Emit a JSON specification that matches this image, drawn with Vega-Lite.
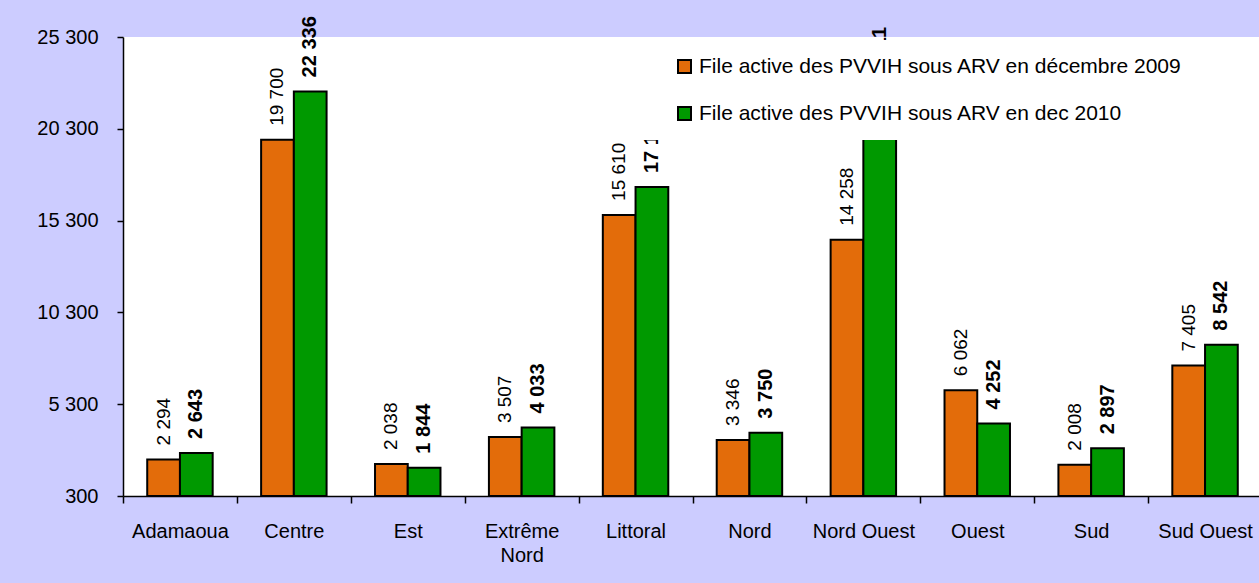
{
  "$schema": "https://vega.github.io/schema/vega-lite/v6.json",
  "width": 1136,
  "height": 459,
  "autosize": {"type": "none"},
  "padding": {"left": 123, "top": 37, "right": 0, "bottom": 87},
  "background": "#ccccff",
  "config": {
    "locale": {"number": {"decimal": ",", "thousands": " ", "grouping": [3], "currency": ["", " €"]}},
    "view": {"fill": "white", "stroke": null},
    "font": "Liberation Sans",
    "axis": {"labelFont": "Liberation Sans", "labelColor": "black", "domainColor": "black", "tickColor": "black", "grid": false, "title": null, "domainWidth": 1.5, "tickWidth": 1.5}
  },
  "data": {
    "values": [
      {"region": "Adamaoua", "serie": "File active des PVVIH sous ARV en décembre 2009", "value": 2294},
      {"region": "Adamaoua", "serie": "File active des PVVIH sous ARV en dec 2010", "value": 2643},
      {"region": "Centre", "serie": "File active des PVVIH sous ARV en décembre 2009", "value": 19700},
      {"region": "Centre", "serie": "File active des PVVIH sous ARV en dec 2010", "value": 22336},
      {"region": "Est", "serie": "File active des PVVIH sous ARV en décembre 2009", "value": 2038},
      {"region": "Est", "serie": "File active des PVVIH sous ARV en dec 2010", "value": 1844},
      {"region": "Extrême Nord", "serie": "File active des PVVIH sous ARV en décembre 2009", "value": 3507},
      {"region": "Extrême Nord", "serie": "File active des PVVIH sous ARV en dec 2010", "value": 4033},
      {"region": "Littoral", "serie": "File active des PVVIH sous ARV en décembre 2009", "value": 15610},
      {"region": "Littoral", "serie": "File active des PVVIH sous ARV en dec 2010", "value": 17130},
      {"region": "Nord", "serie": "File active des PVVIH sous ARV en décembre 2009", "value": 3346},
      {"region": "Nord", "serie": "File active des PVVIH sous ARV en dec 2010", "value": 3750},
      {"region": "Nord Ouest", "serie": "File active des PVVIH sous ARV en décembre 2009", "value": 14258},
      {"region": "Nord Ouest", "serie": "File active des PVVIH sous ARV en dec 2010", "value": 21811},
      {"region": "Ouest", "serie": "File active des PVVIH sous ARV en décembre 2009", "value": 6062},
      {"region": "Ouest", "serie": "File active des PVVIH sous ARV en dec 2010", "value": 4252},
      {"region": "Sud", "serie": "File active des PVVIH sous ARV en décembre 2009", "value": 2008},
      {"region": "Sud", "serie": "File active des PVVIH sous ARV en dec 2010", "value": 2897},
      {"region": "Sud Ouest", "serie": "File active des PVVIH sous ARV en décembre 2009", "value": 7405},
      {"region": "Sud Ouest", "serie": "File active des PVVIH sous ARV en dec 2010", "value": 8542}
    ]
  },
  "encoding": {
    "x": {
      "field": "region",
      "type": "nominal",
      "sort": ["Adamaoua", "Centre", "Est", "Extrême Nord", "Littoral", "Nord", "Nord Ouest", "Ouest", "Sud", "Sud Ouest"],
      "scale": {"range": [0, 1139], "paddingInner": 0, "paddingOuter": 0},
      "axis": {
        "labelAngle": 0,
        "tickBand": "extent",
        "tickSize": 7,
        "labelPadding": 18,
        "labelFontSize": 20,
        "labelLineHeight": 24,
        "labelLimit": 0,
        "labelExpr": "datum.label == 'Extrême Nord' ? ['Extrême', 'Nord'] : datum.label"
      }
    },
    "xOffset": {
      "field": "serie",
      "type": "nominal",
      "sort": ["File active des PVVIH sous ARV en décembre 2009", "File active des PVVIH sous ARV en dec 2010"],
      "scale": {"paddingInner": 0, "paddingOuter": 0.74}
    },
    "y": {
      "field": "value",
      "type": "quantitative",
      "scale": {"domain": [300, 25300], "nice": false, "zero": false},
      "axis": {
        "values": [300, 5300, 10300, 15300, 20300, 25300],
        "format": ",d",
        "tickSize": 6,
        "labelPadding": 19,
        "labelFontSize": 20
      }
    }
  },
  "layer": [
    {
      "mark": {"type": "bar", "stroke": "black", "strokeWidth": 2},
      "encoding": {
        "y2": {"datum": 300},
        "color": {
          "field": "serie",
          "type": "nominal",
          "scale": {"domain": ["File active des PVVIH sous ARV en décembre 2009", "File active des PVVIH sous ARV en dec 2010"], "range": ["#e36c0a", "#009900"]},
          "legend": {
            "orient": "none",
            "legendX": 515,
            "legendY": 3,
            "title": null,
            "fillColor": "white",
            "padding": 16,
            "symbolOffset": 20,
            "symbolType": "square",
            "symbolSize": 169,
            "symbolStrokeColor": "black",
            "symbolStrokeWidth": 2,
            "labelFontSize": 21,
            "labelFont": "Liberation Sans",
            "labelColor": "black",
            "labelOffset": 4,
            "rowPadding": 25,
            "labelLimit": 0
          }
        }
      }
    },
    {
      "transform": [{"filter": "datum.serie == 'File active des PVVIH sous ARV en décembre 2009'"}],
      "mark": {"type": "text", "angle": 270, "align": "left", "baseline": "middle", "dx": 14, "fontSize": 19, "font": "Liberation Sans", "color": "black"},
      "encoding": {"text": {"field": "value", "type": "quantitative", "format": ",d"}}
    },
    {
      "transform": [{"filter": "datum.serie == 'File active des PVVIH sous ARV en dec 2010'"}],
      "mark": {"type": "text", "angle": 270, "align": "left", "baseline": "middle", "dx": 14, "fontSize": 20, "fontWeight": "bold", "font": "Liberation Sans", "color": "black"},
      "encoding": {"text": {"field": "value", "type": "quantitative", "format": ",d"}}
    }
  ]
}
